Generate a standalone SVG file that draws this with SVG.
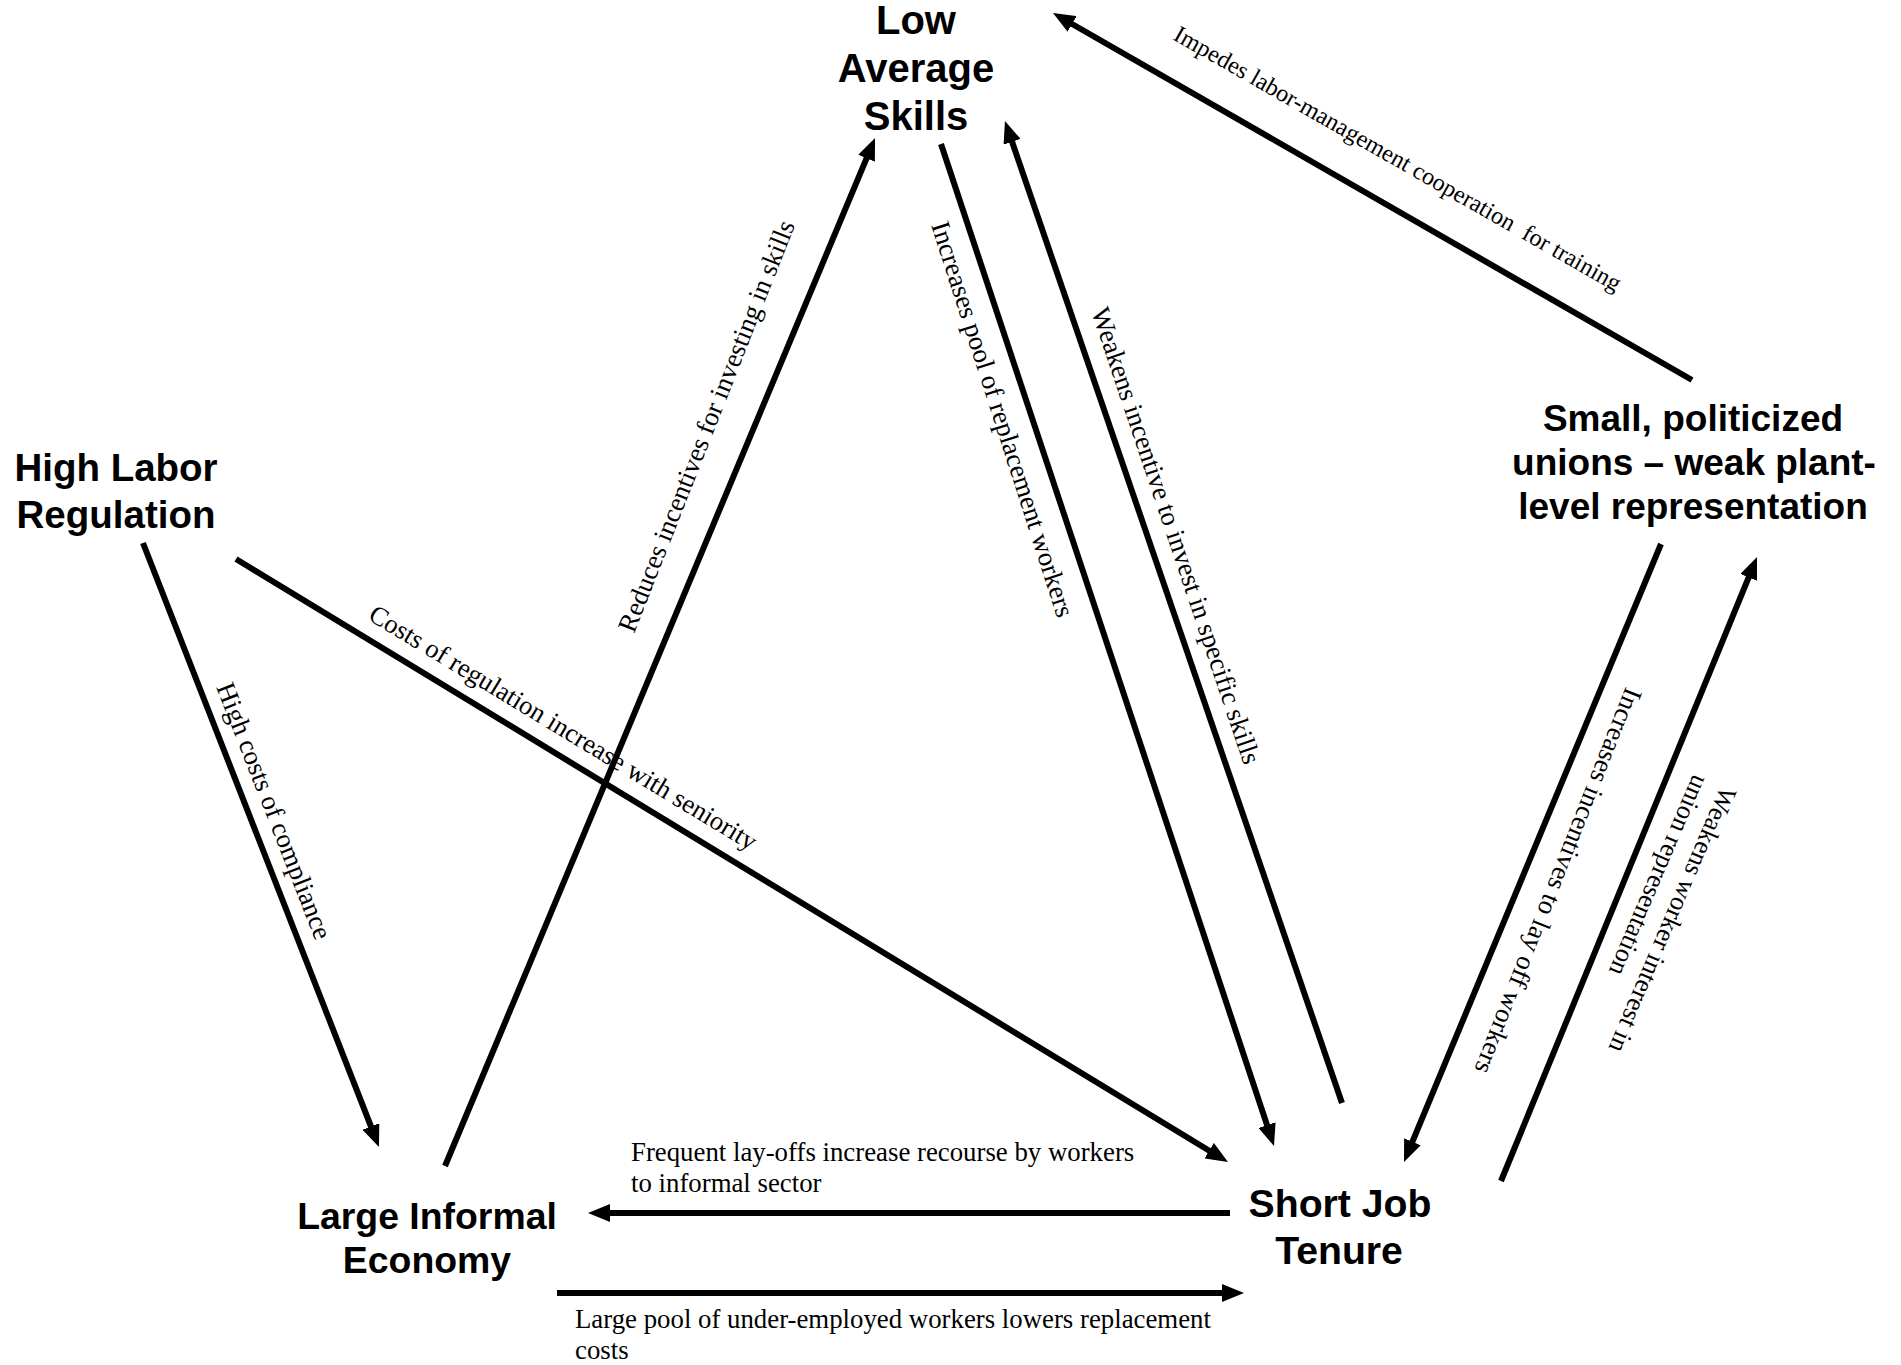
<svg xmlns="http://www.w3.org/2000/svg" width="1901" height="1365" viewBox="0 0 1901 1365">
  <style>
    .node { font-family: "Liberation Sans", Arial, sans-serif; font-weight: bold; fill: #000; text-anchor: middle; }
    .lbl { font-family: "Liberation Serif", "Times New Roman", serif; font-size: 26.8px; fill: #000; }
    .edge { stroke: #000; stroke-width: 6; fill: none; marker-end: url(#ah); }
  </style>
  <defs>
    <marker id="ah" markerUnits="userSpaceOnUse" markerWidth="22" markerHeight="18" refX="4" refY="9" orient="auto">
      <path d="M0,0 L22,9 L0,18 z" fill="#000"/>
    </marker>
  </defs>
  <rect width="1901" height="1365" fill="#fff"/>

  <g id="connectors">
    <g id="e-reg-informal">
      <line class="edge" x1="143" y1="543" x2="372.4" y2="1130.2"/>
      <text class="lbl" transform="translate(216,687) rotate(68.6)">High costs of compliance</text>
    </g>
    <g id="e-reg-tenure">
      <line class="edge" x1="236" y1="559" x2="1212.6" y2="1152.7"/>
      <text class="lbl" style="font-size:26.5px" transform="translate(367,619) rotate(31.2)">Costs of regulation increase with seniority</text>
    </g>
    <g id="e-informal-skills">
      <line class="edge" x1="445" y1="1166" x2="868.1" y2="154.6"/>
      <text class="lbl" transform="translate(634,634) rotate(-68.5)">Reduces incentives for investing in skills</text>
    </g>
    <g id="e-skills-tenure">
      <line class="edge" x1="941" y1="144" x2="1268.3" y2="1128.9"/>
      <text class="lbl" transform="translate(931,225) rotate(72.2)">Increases pool of replacement workers</text>
    </g>
    <g id="e-tenure-skills">
      <line class="edge" x1="1342" y1="1103" x2="1010.8" y2="138"/>
      <text class="lbl" transform="translate(1091,311) rotate(71.4)">Weakens incentive to invest in specific skills</text>
    </g>
    <g id="e-unions-skills">
      <line class="edge" x1="1692" y1="380" x2="1068.6" y2="22"/>
      <text class="lbl" style="font-size:24.2px" xml:space="preserve" transform="translate(1172,39) rotate(29.7)">Impedes labor-management cooperation  for training</text>
    </g>
    <g id="e-unions-tenure">
      <line class="edge" x1="1661" y1="544" x2="1410.9" y2="1145.4"/>
      <text class="lbl" transform="translate(1626,686) rotate(111.6)">Increases incentives to lay off workers</text>
    </g>
    <g id="e-tenure-unions">
      <line class="edge" x1="1501" y1="1181" x2="1750.2" y2="573.7"/>
      <text class="lbl" style="font-size:26.3px" transform="translate(1721,785) rotate(113.2)">
        <tspan x="0" y="0">Weakens worker interest in</tspan>
        <tspan x="0" y="30">union representation</tspan>
      </text>
    </g>
    <g id="e-tenure-informal">
      <line class="edge" x1="1230" y1="1213" x2="606" y2="1213"/>
      <text class="lbl" x="631" y="1161">Frequent lay-offs increase recourse by workers</text>
      <text class="lbl" x="631" y="1192">to informal sector</text>
    </g>
    <g id="e-informal-tenure">
      <line class="edge" x1="557" y1="1293" x2="1226" y2="1293"/>
      <text class="lbl" x="575" y="1328">Large pool of under-employed workers lowers replacement</text>
      <text class="lbl" x="575" y="1359">costs</text>
    </g>
  </g>

  <g id="node-skills">
    <text class="node" style="font-size:40px" x="916" y="34">Low</text>
    <text class="node" style="font-size:40px" x="916" y="82">Average</text>
    <text class="node" style="font-size:40px" x="916" y="130">Skills</text>
  </g>
  <g id="node-regulation">
    <text class="node" style="font-size:38.5px" x="116" y="481">High Labor</text>
    <text class="node" style="font-size:38.5px" x="116" y="528">Regulation</text>
  </g>
  <g id="node-unions">
    <text class="node" style="font-size:37px" x="1693" y="431">Small, politicized</text>
    <text class="node" style="font-size:37px" x="1694" y="475">unions – weak plant-</text>
    <text class="node" style="font-size:37px" x="1693" y="519">level representation</text>
  </g>
  <g id="node-informal">
    <text class="node" style="font-size:37.4px" x="427" y="1229">Large Informal</text>
    <text class="node" style="font-size:37.4px" x="427" y="1273">Economy</text>
  </g>
  <g id="node-tenure">
    <text class="node" style="font-size:39.2px" x="1340" y="1217">Short Job</text>
    <text class="node" style="font-size:39.2px" x="1339" y="1264">Tenure</text>
  </g>
</svg>
